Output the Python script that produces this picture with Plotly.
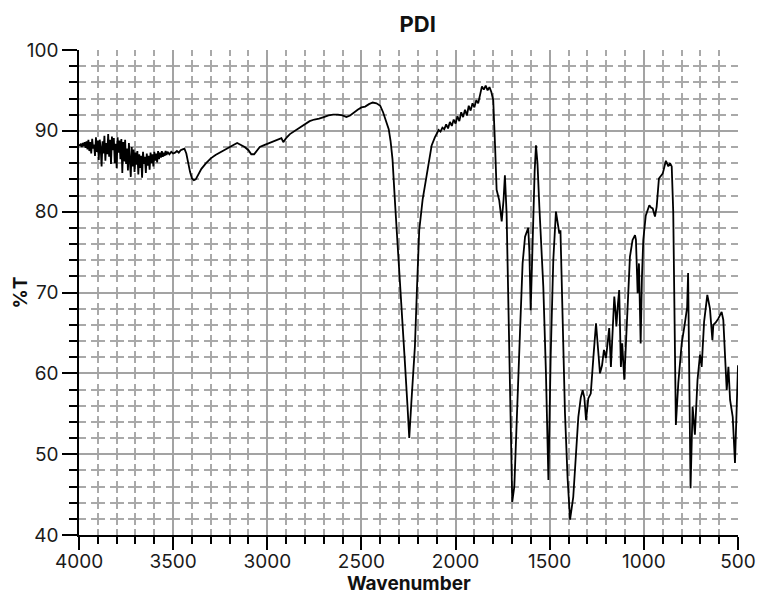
import plotly.graph_objects as go

# Wavenumber (cm-1) and transmittance (%T)
noisy_wavenumber = [
    4000, 3995, 3990, 3985, 3980, 3975, 3970, 3965, 3960, 3955, 3950, 3945, 3940, 3935, 3930,
    3925, 3920, 3915, 3910, 3905, 3900, 3895, 3890, 3885, 3880, 3875, 3870, 3865, 3860, 3855,
    3850, 3845, 3840, 3835, 3830, 3825, 3820, 3815, 3810, 3805, 3800, 3795, 3790, 3785, 3780,
    3775, 3770, 3765, 3760, 3755, 3750, 3745, 3740, 3735, 3730, 3725, 3720, 3715, 3710, 3705,
    3700, 3695, 3690, 3685, 3680, 3675, 3670, 3665, 3660, 3655, 3650, 3645, 3640, 3635, 3630,
    3625, 3620, 3615, 3610, 3605, 3600, 3595, 3590, 3585, 3580, 3575, 3570, 3565, 3560, 3555,
    3550, 3545, 3540, 3535, 3530, 3520, 3510, 3500,
]
noisy_transmittance = [
    88.3, 88.2, 88.4, 88.0, 88.5, 88.1, 88.6, 87.9, 88.7, 87.7, 88.9, 87.5, 88.6, 87.2, 89.0,
    87.8, 88.3, 86.9, 89.2, 87.4, 88.8, 86.4, 88.9, 87.9, 85.6, 88.7, 87.2, 89.4, 86.3, 88.5,
    87.1, 89.6, 86.8, 88.9, 85.9, 89.3, 87.6, 89.1, 86.0, 88.4, 85.4, 89.2, 87.3, 88.8, 86.5,
    89.0, 84.8, 88.6, 86.2, 88.9, 85.9, 87.8, 85.1, 88.5, 86.4, 84.3, 88.0, 85.6, 87.7, 84.9,
    87.3, 85.8, 87.5, 84.6, 87.1, 85.4, 86.9, 84.2, 87.4, 85.9, 86.8, 84.8, 87.2, 85.7, 86.9,
    85.2, 87.3, 86.0, 87.1, 85.6, 87.4, 86.3, 87.2, 86.1, 87.5, 86.5, 87.3, 86.7, 87.5, 86.8,
    87.3, 86.9, 87.5, 87.0, 87.4, 87.1, 87.4, 87.2,
]
main_wavenumber = [
    3490, 3480, 3470, 3460, 3450, 3440, 3430, 3420, 3410,
    3400, 3390, 3380, 3370, 3350, 3325, 3300, 3275, 3250, 3225, 3200, 3175, 3160, 3140, 3120,
    3100, 3085, 3070, 3055, 3040, 3020, 3000, 2980, 2960, 2940, 2925, 2915, 2900, 2880, 2860,
    2840, 2820, 2800, 2775, 2750, 2725, 2700, 2675, 2650, 2625, 2600, 2580, 2560, 2540, 2520,
    2500, 2480, 2460, 2440, 2420, 2400, 2385, 2375, 2365, 2355, 2345, 2335, 2320, 2310, 2300,
    2285, 2270, 2255, 2246, 2235, 2225, 2216, 2205, 2193, 2175, 2157, 2140, 2127, 2110, 2100,
    2090, 2080, 2070, 2060, 2050, 2040, 2030, 2020, 2010, 2000, 1990, 1980, 1970, 1960, 1950,
    1940, 1930, 1920, 1910, 1900, 1890, 1880, 1870, 1860, 1850, 1840, 1830, 1820, 1810, 1800,
    1790, 1782, 1768, 1760, 1755, 1745, 1738, 1729, 1720, 1710, 1699, 1688, 1675, 1658, 1644,
    1631, 1614, 1608, 1601, 1592, 1580, 1573, 1565, 1555, 1534, 1520, 1507, 1495, 1481, 1467,
    1458, 1449, 1443, 1428, 1419, 1405, 1392, 1375, 1360, 1348, 1335, 1325, 1316, 1307, 1295,
    1282, 1268, 1254, 1245, 1233, 1222, 1212, 1201, 1192, 1184, 1175, 1165, 1157, 1150, 1146,
    1138, 1131, 1122, 1115, 1104, 1090, 1074, 1060, 1052, 1047, 1042, 1033, 1026, 1017, 1010,
    1003, 990, 982, 971, 962, 953, 941, 932, 920, 900, 883, 870, 861, 852, 844,
    836, 830, 817, 799, 782, 770, 765, 760, 752, 741, 729, 715, 702, 693, 680,
    663, 649, 636, 631, 618, 604, 587, 578, 560, 551, 542, 528, 516, 511, 500,
]
main_transmittance = [
    87.3, 87.5, 87.3, 87.6, 87.7, 87.8, 87.2, 86.0, 84.9,
    84.1, 83.9, 84.0, 84.5, 85.3, 86.0, 86.6, 87.0, 87.3, 87.7, 88.0, 88.3, 88.5, 88.3, 88.0,
    87.6, 87.1, 87.1, 87.5, 88.0, 88.2, 88.4, 88.5, 88.7, 88.9, 89.1, 88.6, 89.1, 89.6, 89.9,
    90.3, 90.6, 90.9, 91.2, 91.4, 91.5, 91.7, 91.9, 92.0, 92.0, 91.9, 91.7, 91.9, 92.3, 92.6,
    92.9, 93.0, 93.3, 93.5, 93.4, 93.1, 92.3, 91.5, 91.0, 90.2, 88.7, 86.5, 80.5, 77.0, 73.5,
    67.8, 61.7, 55.8, 52.0, 56.3, 60.0, 63.3, 70.5, 77.7, 81.5, 83.9, 86.5, 88.2, 89.2, 89.7,
    90.1, 89.9, 90.4, 90.2, 90.8, 90.3, 91.1, 90.6, 91.4, 90.9, 91.8, 91.2, 92.3, 91.7, 92.6,
    91.9, 93.1, 92.5, 93.4, 92.9, 93.8, 93.4, 94.6, 95.5, 95.1, 95.6, 95.0, 95.4, 94.8, 93.8,
    88.0, 82.7, 81.4, 79.5, 78.8, 81.5, 84.5, 79.8, 68.0, 55.0, 44.1, 46.0, 55.0, 65.0, 73.6,
    76.9, 78.0, 75.0, 67.8, 76.0, 85.0, 88.2, 86.0, 80.6, 70.7, 60.0, 46.8, 62.0, 74.0, 80.0,
    78.5, 77.3, 77.7, 63.3, 55.1, 47.0, 41.9, 44.7, 49.5, 54.6, 57.0, 57.9, 57.0, 54.2, 56.9,
    57.5, 62.0, 66.2, 63.5, 60.0, 61.0, 62.9, 61.9, 63.5, 65.6, 60.8, 66.0, 69.5, 67.5, 65.8,
    68.5, 70.3, 60.8, 63.7, 59.2, 67.0, 74.4, 76.5, 76.9, 77.1, 76.5, 69.9, 73.6, 63.7, 72.0,
    76.5, 79.5, 80.2, 80.8, 80.5, 80.4, 79.4, 80.6, 84.1, 84.7, 86.3, 85.6, 86.0, 85.6, 80.0,
    65.0, 53.6, 58.8, 63.7, 66.2, 68.2, 72.4, 60.0, 45.8, 55.9, 52.4, 59.2, 62.3, 60.8, 66.4,
    69.7, 68.0, 64.1, 66.0, 66.3, 66.8, 67.6, 66.6, 57.9, 60.8, 56.7, 54.6, 48.9, 52.6, 61.0,
]

wavenumber = noisy_wavenumber + main_wavenumber
transmittance = noisy_transmittance + main_transmittance

x_tickvals = [4000, 3500, 3000, 2500, 2000, 1500, 1000, 500]
x_ticktext = ["4000", "3500", "3000", "2500", "2000", "1500", "1000", "500"]
y_tickvals = [40, 50, 60, 70, 80, 90, 100]
y_ticktext = ["40", "50", "60", "70", "80", "90", "100"]

FONT = "Inter, Roboto, Arial, sans-serif"

fig = go.Figure()
fig.add_trace(go.Scatter(
    x=wavenumber, y=transmittance, mode="lines",
    line=dict(color="#000000", width=1.8), showlegend=False, hoverinfo="skip",
))

MAJOR_GRID = "#a3a3a3"
MINOR_GRID = "#a9a9a9"

fig.update_layout(
    width=757, height=594,
    margin=dict(l=79, r=19, t=50, b=59, autoexpand=False),
    paper_bgcolor="white", plot_bgcolor="white",
    font=dict(family=FONT, color="#1a1a1a", size=19),
    title=dict(text="<b>PDI</b>", font=dict(family=FONT, size=22, color="#111111"),
               x=0.514, xref="paper", xanchor="center",
               y=1 - 24.5 / 594, yref="container", yanchor="middle"),
    xaxis=dict(
        range=[4000, 500], tickmode="array", tickvals=x_tickvals, ticktext=x_ticktext,
        automargin=False,
        showline=True, linecolor="#000000", linewidth=1.5, mirror=False,
        ticks="outside", ticklen=13, tickwidth=1.5, tickcolor="#000000",
        ticklabelstandoff=-5,
        tickfont=dict(family=FONT, size=19, color="#1a1a1a"),
        showgrid=True, gridcolor=MAJOR_GRID, gridwidth=1.8,
        zeroline=False,
        minor=dict(dtick=100, tick0=0, ticks="outside", ticklen=7, tickwidth=1.5,
                   tickcolor="#000000", showgrid=True, gridcolor=MINOR_GRID,
                   gridwidth=1.5, griddash="6px,4.17px,6px,0px"),
    ),
    yaxis=dict(
        range=[40, 100], tickmode="array", tickvals=y_tickvals, ticktext=y_ticktext,
        automargin=False,
        showline=True, linecolor="#000000", linewidth=1.5, mirror=False,
        ticks="outside", ticklen=15, tickwidth=1.5, tickcolor="#000000",
        tickfont=dict(family=FONT, size=19, color="#1a1a1a"),
        showgrid=True, gridcolor=MAJOR_GRID, gridwidth=1.8,
        zeroline=False,
        minor=dict(dtick=2, tick0=0, ticks="outside", ticklen=8, tickwidth=1.5,
                   tickcolor="#000000", showgrid=True, gridcolor=MINOR_GRID,
                   gridwidth=1.5, griddash="7px,4.83px,7px,0px"),
    ),
    annotations=[
        dict(text="<b>Wavenumber</b>", xref="paper", yref="paper",
             x=0.5, y=-(583 - 535) / 485, xanchor="center", yanchor="middle",
             showarrow=False, font=dict(family=FONT, size=19, color="#111111")),
        dict(text="<b>%T</b>", xref="paper", yref="paper",
             x=-(79 - 20) / 659, y=0.5, xanchor="center", yanchor="middle",
             textangle=-90, showarrow=False,
             font=dict(family=FONT, size=19, color="#111111")),
    ],
)

fig.write_html("out.html")
